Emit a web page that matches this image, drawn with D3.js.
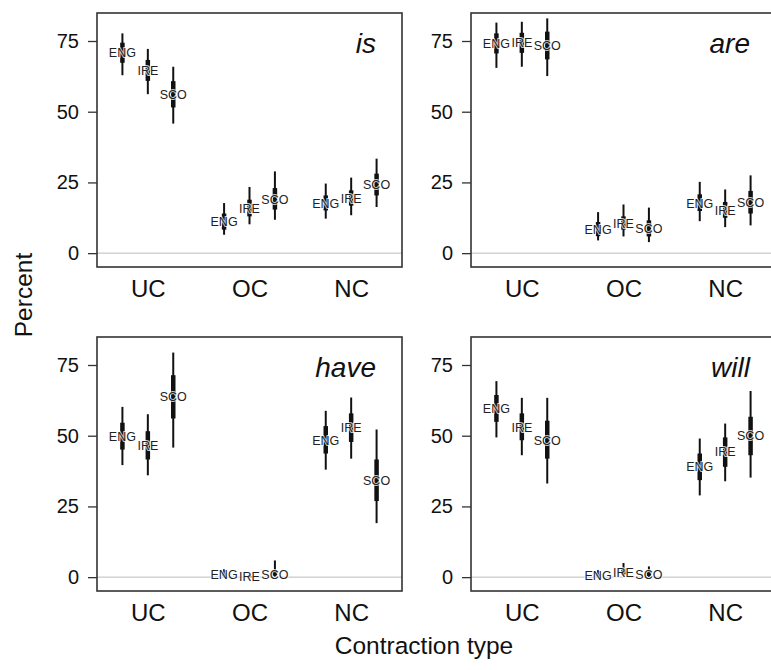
<!DOCTYPE html>
<html>
<head>
<meta charset="utf-8">
<script src="https://cdn.jsdelivr.net/npm/d3@7"></script>
<style>
  body { margin: 0; background: #fff; }
  svg { display: block; font-family: "Liberation Sans", Arial, sans-serif; }
  .frame { fill: none; stroke: #333; stroke-width: 1.6; }
  .zero-line { stroke: #bbb; stroke-width: 1; }
  .ci95 { stroke: #111; stroke-width: 2; }
  .ci50 { stroke: #111; stroke-width: 4.5; }
  .region-text { font-size: 12.5px; fill: #222; stroke: #fff; stroke-width: 2px; stroke-opacity: 0.75; paint-order: stroke; }
  .y-axis text { font-size: 20px; fill: #111; }
  .x-axis text { font-size: 24px; fill: #111; }
  .panel-title { font-size: 28px; font-style: italic; fill: #111; }
  .axis-title { font-size: 24.5px; fill: #111; }
</style>
</head>
<body>
<svg id="chart"></svg>
<script>
// words (panels), contraction types, regions
const words = ['is', 'are', 'have', 'will'];
const types = ['UC', 'OC', 'NC'];
const regions = ['ENG', 'IRE', 'SCO'];
const yTicks = [0, 25, 50, 75];

// each array: UC ENG, UC IRE, UC SCO, OC ENG, ..., NC SCO
const median = {
  is:   [70.9, 64.6, 56.2, 11.1, 15.8, 19.1, 17.6, 19.3, 24.2],
  are:  [74.2, 74.5, 73.5, 8.4, 10.6, 8.7, 17.7, 15.1, 17.9],
  have: [49.7, 46.6, 63.8, 0.9, 0.1, 1.0, 48.4, 52.8, 34.0],
  will: [59.5, 53.0, 48.4, 0.6, 1.8, 0.8, 39.0, 44.3, 49.9]
};
const lo50 = {
  is:   [67.3, 60.9, 51.5, 8.3, 13.0, 15.4, 15.1, 16.8, 20.4],
  are:  [70.6, 70.8, 68.5, 6.0, 8.3, 5.9, 14.9, 12.5, 14.0],
  have: [45.1, 41.6, 56.1, 0.5, 0.0, 0.5, 43.7, 47.8, 26.9],
  will: [54.9, 48.4, 41.9, 0.3, 1.0, 0.4, 34.3, 39.0, 43.1]
};
const hi50 = {
  is:   [74.4, 68.3, 60.8, 14.0, 18.9, 23.0, 20.4, 22.2, 28.1],
  are:  [77.7, 77.9, 78.3, 11.0, 13.0, 11.6, 20.8, 18.1, 22.0],
  have: [54.6, 51.6, 71.4, 1.4, 0.3, 2.2, 53.4, 57.9, 41.6],
  will: [64.4, 57.9, 55.3, 1.2, 3.0, 1.8, 43.7, 49.4, 56.7]
};
const lo95 = {
  is:   [62.9, 56.2, 45.8, 6.5, 10.2, 11.8, 12.2, 13.4, 16.3],
  are:  [65.5, 65.9, 62.6, 4.5, 5.9, 3.9, 11.3, 9.2, 9.8],
  have: [39.6, 36.0, 45.8, 0.1, 0.0, 0.2, 38.0, 41.9, 19.1],
  will: [49.4, 43.1, 33.1, 0.1, 0.4, 0.1, 28.9, 33.9, 35.2]
};
const hi95 = {
  is:   [77.7, 72.2, 65.9, 17.7, 23.4, 28.9, 24.6, 26.7, 33.4],
  are:  [81.5, 81.8, 83.0, 14.5, 17.2, 16.1, 25.2, 22.5, 27.5],
  have: [60.2, 57.6, 79.4, 2.8, 0.9, 5.9, 58.8, 63.5, 52.2],
  will: [69.3, 63.4, 63.4, 2.5, 5.0, 3.8, 49.0, 54.3, 65.8]
};

const width = 771, height = 670;
const panelW = 305, panelH = 254;
const panelX = [97, 471];
const panelY = [13, 337];
const regionOffset = [-0.25, 0, 0.25];

const svg = d3.select('#chart')
  .attr('width', width)
  .attr('height', height);

words.forEach((word, i) => {
  const x0 = panelX[i % 2];
  const y0 = panelY[Math.floor(i / 2)];

  const x = d3.scaleLinear().domain([0.5, 3.5]).range([x0, x0 + panelW]);
  const y = d3.scaleLinear().domain([-4.9, 84.9]).range([y0 + panelH, y0]);

  // build rows for this panel
  const rows = [];
  types.forEach((t, ti) => {
    regions.forEach((r, ri) => {
      const k = ti * 3 + ri;
      rows.push({
        type: t, region: r,
        pos: ti + 1 + regionOffset[ri],
        med: median[word][k],
        lo50: lo50[word][k], hi50: hi50[word][k],
        lo95: lo95[word][k], hi95: hi95[word][k]
      });
    });
  });

  const g = svg.append('g').attr('class', 'panel');

  g.append('line')
    .attr('class', 'zero-line')
    .attr('x1', x0).attr('x2', x0 + panelW)
    .attr('y1', y(0)).attr('y2', y(0));

  g.selectAll('.ci95')
    .data(rows)
    .join('line')
    .attr('class', 'ci95')
    .attr('x1', d => x(d.pos)).attr('x2', d => x(d.pos))
    .attr('y1', d => y(d.lo95)).attr('y2', d => y(d.hi95));

  g.selectAll('.ci50')
    .data(rows)
    .join('line')
    .attr('class', 'ci50')
    .attr('x1', d => x(d.pos)).attr('x2', d => x(d.pos))
    .attr('y1', d => y(d.lo50)).attr('y2', d => y(d.hi50));

  g.selectAll('.region-text')
    .data(rows)
    .join('text')
    .attr('class', 'region-text')
    .attr('x', d => x(d.pos))
    .attr('y', d => y(d.med))
    .attr('dy', '0.36em')
    .attr('text-anchor', 'middle')
    .text(d => d.region);

  g.append('rect')
    .attr('class', 'frame')
    .attr('x', x0).attr('y', y0)
    .attr('width', panelW).attr('height', panelH);

  // axes
  const yAxis = g.append('g')
    .attr('class', 'y-axis')
    .attr('transform', `translate(${x0},0)`)
    .call(d3.axisLeft(y).tickValues(yTicks).tickSize(9).tickPadding(9));
  yAxis.select('.domain').remove();
  yAxis.selectAll('line').attr('stroke', '#333').attr('stroke-width', 1.3);
  yAxis.selectAll('text').attr('font-family', null).attr('font-size', null);

  const xAxis = g.append('g')
    .attr('class', 'x-axis')
    .attr('transform', `translate(0,${y0 + panelH})`)
    .call(d3.axisBottom(x).tickValues([1, 2, 3]).tickFormat(d => types[d - 1]).tickSize(0).tickPadding(13));
  xAxis.select('.domain').remove();
  xAxis.selectAll('text').attr('font-family', null).attr('font-size', null);

  g.append('text')
    .attr('class', 'panel-title')
    .attr('x', x0 + panelW - 26)
    .attr('y', y0 + 40)
    .attr('text-anchor', 'end')
    .text(word);
});

svg.append('text')
  .attr('class', 'axis-title')
  .attr('transform', 'translate(32,295) rotate(-90)')
  .attr('text-anchor', 'middle')
  .text('Percent');

svg.append('text')
  .attr('class', 'axis-title')
  .attr('x', 424)
  .attr('y', 654)
  .attr('text-anchor', 'middle')
  .text('Contraction type');
</script>
</body>
</html>
